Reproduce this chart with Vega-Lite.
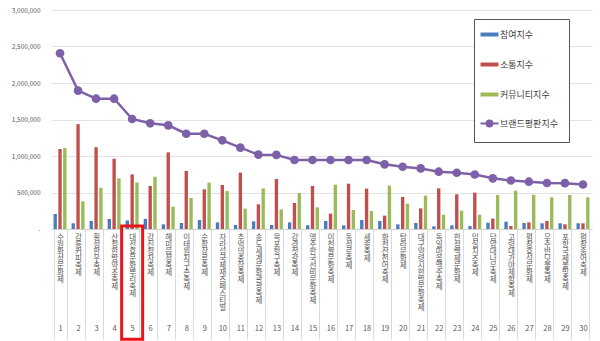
{
  "$schema": "https://vega.github.io/schema/vega-lite/v6.json",
  "width": 541,
  "height": 219,
  "autosize": "none",
  "padding": {"left": 51, "top": 10, "right": 8, "bottom": 112},
  "background": "white",
  "config": {
    "font": "Noto Sans CJK KR",
    "view": {"stroke": null},
    "axisX": {"grid": false},
    "axisY": {"domain": false, "ticks": false, "labelFontSize": 6.5, "labelColor": "#595959", "labelPadding": 11, "gridColor": "#e3e3e3"}
  },
  "resolve": {"axis": {"y": "independent"}},
  "data": {
    "values": [
      {"rank": 1, "festival": "수원화성문화제", "참여지수": 206000, "소통지수": 1096000, "커뮤니티지수": 1110000, "브랜드평판지수": 2407000},
      {"rank": 2, "festival": "강릉커피축제", "참여지수": 78000, "소통지수": 1436000, "커뮤니티지수": 380000, "브랜드평판지수": 1895000},
      {"rank": 3, "festival": "횡성한우축제", "참여지수": 110000, "소통지수": 1120000, "커뮤니티지수": 564000, "브랜드평판지수": 1785000},
      {"rank": 4, "festival": "산청한방약초축제", "참여지수": 138000, "소통지수": 963000, "커뮤니티지수": 693000, "브랜드평판지수": 1785000},
      {"rank": 5, "festival": "대전효문화뿌리축제", "참여지수": 115000, "소통지수": 748000, "커뮤니티지수": 638000, "브랜드평판지수": 1507000},
      {"rank": 6, "festival": "강진청자축제", "참여지수": 138000, "소통지수": 590000, "커뮤니티지수": 716000, "브랜드평판지수": 1448000},
      {"rank": 7, "festival": "해미읍성축제", "참여지수": 64000, "소통지수": 1050000, "커뮤니티지수": 306000, "브랜드평판지수": 1420000},
      {"rank": 8, "festival": "이태원지구촌축제", "참여지수": 82000, "소통지수": 795000, "커뮤니티지수": 425000, "브랜드평판지수": 1305000},
      {"rank": 9, "festival": "순창장류축제", "참여지수": 123000, "소통지수": 543000, "커뮤니티지수": 635000, "브랜드평판지수": 1305000},
      {"rank": 10, "festival": "자라섬국제재즈페스티벌", "참여지수": 91000, "소통지수": 603000, "커뮤니티지수": 520000, "브랜드평판지수": 1215000},
      {"rank": 11, "festival": "추억의충장축제", "참여지수": 55000, "소통지수": 772000, "커뮤니티지수": 279000, "브랜드평판지수": 1114000},
      {"rank": 12, "festival": "송도세계문화관광축제", "참여지수": 105000, "소통지수": 338000, "커뮤니티지수": 557000, "브랜드평판지수": 1018000},
      {"rank": 13, "festival": "목포항구축제", "참여지수": 55000, "소통지수": 685000, "커뮤니티지수": 269000, "브랜드평판지수": 1015000},
      {"rank": 14, "festival": "강경젓갈축제", "참여지수": 91000, "소통지수": 356000, "커뮤니티지수": 493000, "브랜드평판지수": 945000},
      {"rank": 15, "festival": "영주한국선비문화축제", "참여지수": 50000, "소통지수": 589000, "커뮤니티지수": 297000, "브랜드평판지수": 945000},
      {"rank": 16, "festival": "이천쌀문화축제", "참여지수": 110000, "소통지수": 210000, "커뮤니티지수": 607000, "브랜드평판지수": 945000},
      {"rank": 17, "festival": "동성로축제", "참여지수": 50000, "소통지수": 621000, "커뮤니티지수": 260000, "브랜드평판지수": 945000},
      {"rank": 18, "festival": "세종축제", "참여지수": 123000, "소통지수": 553000, "커뮤니티지수": 247000, "브랜드평판지수": 945000},
      {"rank": 19, "festival": "화천산천어축제", "참여지수": 110000, "소통지수": 183000, "커뮤니티지수": 594000, "브랜드평판지수": 886000},
      {"rank": 20, "festival": "탐라문화제", "참여지수": 64000, "소통지수": 438000, "커뮤니티지수": 347000, "브랜드평판지수": 853000},
      {"rank": 21, "festival": "대구약령시한방문화축제", "참여지수": 82000, "소통지수": 283000, "커뮤니티지수": 457000, "브랜드평판지수": 830000},
      {"rank": 22, "festival": "독일마을맥주축제", "참여지수": 37000, "소통지수": 557000, "커뮤니티지수": 196000, "브랜드평판지수": 785000},
      {"rank": 23, "festival": "한성백제문화제", "참여지수": 50000, "소통지수": 475000, "커뮤니티지수": 251000, "브랜드평판지수": 771000},
      {"rank": 24, "festival": "임실치즈축제", "참여지수": 41000, "소통지수": 498000, "커뮤니티지수": 196000, "브랜드평판지수": 746000},
      {"rank": 25, "festival": "담양대나무축제", "참여지수": 87000, "소통지수": 142000, "커뮤니티지수": 466000, "브랜드평판지수": 694000},
      {"rank": 26, "festival": "고령대가야체험축제", "참여지수": 100000, "소통지수": 41000, "커뮤니티지수": 525000, "브랜드평판지수": 664000},
      {"rank": 27, "festival": "평창효석문화제", "참여지수": 82000, "소통지수": 91000, "커뮤니티지수": 470000, "브랜드평판지수": 648000},
      {"rank": 28, "festival": "무주반딧불축제", "참여지수": 78000, "소통지수": 110000, "커뮤니티지수": 434000, "브랜드평판지수": 630000},
      {"rank": 29, "festival": "포항국제불빛축제", "참여지수": 78000, "소통지수": 64000, "커뮤니티지수": 466000, "브랜드평판지수": 628000},
      {"rank": 30, "festival": "평창송어축제", "참여지수": 78000, "소통지수": 78000, "커뮤니티지수": 434000, "브랜드평판지수": 610000}
    ]
  },
  "encoding": {
    "x": {
      "field": "festival",
      "type": "nominal",
      "sort": {"field": "rank", "op": "min"},
      "title": null,
      "scale": {"paddingInner": 0.28, "paddingOuter": 0.14},
      "axis": {
        "domainColor": "#d0d0d0",
        "tickColor": "#d9d9d9",
        "tickSize": 110,
        "tickBand": "extent",
        "labelAngle": 0,
        "labelAlign": "center",
        "labelBaseline": "top",
        "labelPadding": -106,
        "labelFontSize": 7.5,
        "labelLineHeight": 7,
        "labelColor": "#595959",
        "labelOverlap": false,
        "labelExpr": "datum.index < 0 || datum.label == '' ? '' : split(replace(slice(datum.label + '\u2800\u2800\u2800\u2800\u2800\u2800\u2800\u2800\u2800\u2800\u2800\u2800\u2800\u2800', 0, 13), regexp('(.)', 'g'), '$1|') + (round(datum.index * 29) + 1), '|')"
      }
    }
  },
  "layer": [
    {
      "transform": [{"fold": ["참여지수", "소통지수", "커뮤니티지수"], "as": ["series", "value"]}],
      "mark": {"type": "bar"},
      "encoding": {
        "xOffset": {"field": "series", "type": "nominal", "sort": ["참여지수", "소통지수", "커뮤니티지수"], "scale": {"paddingInner": 0.3, "paddingOuter": 0}},
        "y": {
          "field": "value",
          "type": "quantitative",
          "title": null,
          "scale": {"domain": [0, 3000000], "nice": false},
          "axis": {"values": [0, 500000, 1000000, 1500000, 2000000, 2500000, 3000000], "labelExpr": "datum.value == 0 ? '-' : format(datum.value, ',')"}
        },
        "color": {
          "field": "series",
          "type": "nominal",
          "scale": {"domain": ["참여지수", "소통지수", "커뮤니티지수", "브랜드평판지수"], "range": ["#4a7dbb", "#c0504d", "#9bbb59", "#7e60a9"]},
          "legend": {
            "orient": "none",
            "legendX": 423,
            "legendY": 9,
            "title": null,
            "symbolType": "stroke",
            "symbolSize": 324,
            "symbolStrokeWidth": 4,
            "labelFontSize": 9,
            "labelColor": "#404040",
            "labelOffset": 6,
            "padding": 11,
            "rowPadding": 13,
            "strokeColor": "#555555",
            "fillColor": "white",
            "encode": {
              "symbols": {
                "update": {
                  "shape": {"signal": "datum.value === '브랜드평판지수' ? 'M-1,0H1M0.33,0A0.33,0.33,0,1,1,-0.33,0A0.33,0.33,0,1,1,0.33,0Z' : 'stroke'"},
                  "strokeWidth": {"signal": "datum.value === '브랜드평판지수' ? 2 : 4"},
                  "stroke": {"scale": "color", "field": "value"},
                  "fill": {"scale": "color", "field": "value"},
                  "opacity": {"value": 1}
                }
              }
            }
          }
        }
      }
    },
    {
      "mark": {"type": "line", "strokeWidth": 2.5},
      "encoding": {
        "y": {"field": "브랜드평판지수", "type": "quantitative", "title": null, "scale": {"domain": [0, 3000000], "nice": false}, "axis": null},
        "color": {"datum": "브랜드평판지수"}
      }
    },
    {
      "mark": {"type": "point", "filled": true, "size": 75, "opacity": 1},
      "encoding": {
        "y": {"field": "브랜드평판지수", "type": "quantitative", "title": null, "scale": {"domain": [0, 3000000], "nice": false}, "axis": null},
        "color": {"datum": "브랜드평판지수"}
      }
    },
    {
      "transform": [{"filter": "datum.rank == 5"}],
      "mark": {"type": "bar", "fill": null, "stroke": "#e8141b", "strokeWidth": 3, "width": 21},
      "encoding": {
        "y": {"datum": 40000, "type": "quantitative", "title": null, "scale": {"domain": [0, 3000000], "nice": false}, "axis": null},
        "y2": {"datum": -1510000}
      }
    }
  ]
}
